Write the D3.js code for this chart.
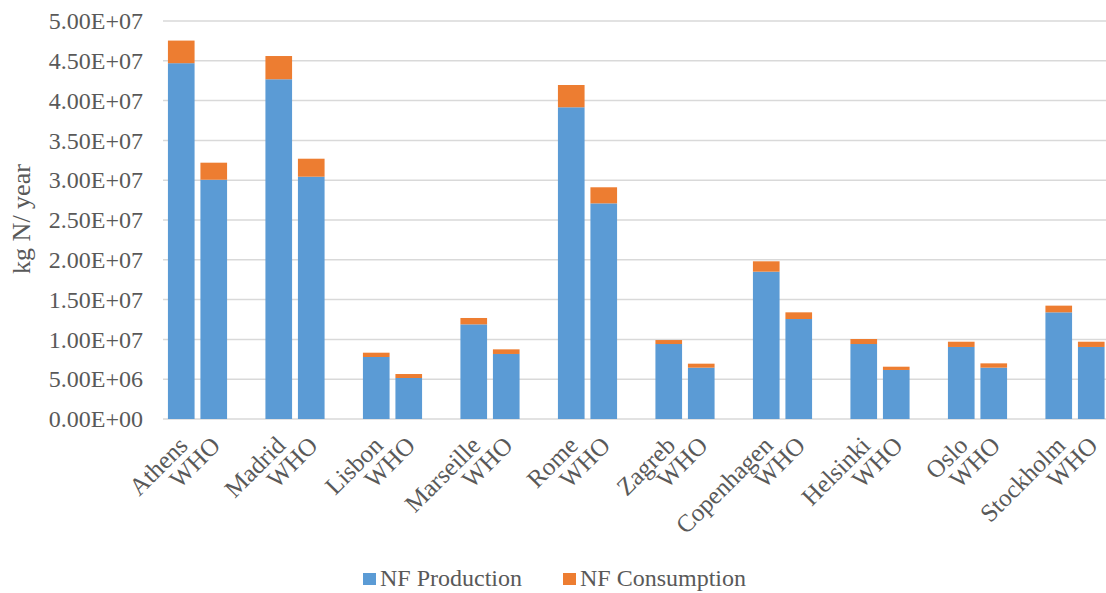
<!DOCTYPE html>
<html>
<head>
<meta charset="utf-8">
<script src="https://cdn.jsdelivr.net/npm/d3@7"></script>
<style>
  html, body { margin: 0; padding: 0; background: #fff; }
  svg text { font-family: "Liberation Serif", "Times New Roman", serif; fill: #595959; }
</style>
</head>
<body>
<svg id="chart" width="1106" height="593"></svg>
<script>
// Each city is followed by its WHO-scenario bar
const barLabels = [
  "Athens", "WHO", "Madrid", "WHO", "Lisbon", "WHO", "Marseille", "WHO",
  "Rome", "WHO", "Zagreb", "WHO", "Copenhagen", "WHO", "Helsinki", "WHO",
  "Oslo", "WHO", "Stockholm", "WHO"
];
// kg N / year
const nfProduction = [
  4.47e7, 3.006e7, 4.268e7, 3.044e7, 0.779e7, 0.515e7, 1.189e7, 0.817e7,
  3.916e7, 2.709e7, 0.942e7, 0.645e7, 1.851e7, 1.256e7, 0.942e7, 0.616e7,
  0.905e7, 0.645e7, 1.340e7, 0.905e7
];
const nfConsumption = [
  0.284e7, 0.214e7, 0.292e7, 0.226e7, 0.054e7, 0.050e7, 0.080e7, 0.058e7,
  0.280e7, 0.202e7, 0.050e7, 0.050e7, 0.130e7, 0.084e7, 0.063e7, 0.041e7,
  0.066e7, 0.054e7, 0.084e7, 0.066e7
];
const seriesNames = ["NF Production", "NF Consumption"];
const seriesColors = ["#5B9BD5", "#ED7D31"];
const yTicks = d3.range(0, 5e7 + 1, 5e6);

const svg = d3.select("#chart");

// pairs of bars separated by an empty slot
const slotCount = 29;
const slotOf = i => Math.floor(i / 2) * 3 + (i % 2);

const x = d3.scaleBand()
  .domain(d3.range(slotCount))
  .range([165, 1107.5])
  .paddingInner(0.18)
  .paddingOuter(0.09);

const y = d3.scaleLinear().domain([0, 5e7]).range([419, 21]);

const fmt = v => {
  const [m, e] = v.toExponential(2).split("e");
  const sign = e[0] === "-" ? "-" : "+";
  const digits = e.replace(/[+-]/, "").padStart(2, "0");
  return m + "E" + sign + digits;
};

// gridlines
svg.append("g")
  .selectAll("line")
  .data(yTicks)
  .join("line")
  .attr("x1", 163).attr("x2", 1106)
  .attr("y1", d => y(d)).attr("y2", d => y(d))
  .attr("stroke", "#D9D9D9")
  .attr("stroke-width", 1.5);

// y axis labels
const yAxis = svg.append("g")
  .attr("transform", "translate(143,0)")
  .call(d3.axisLeft(y).tickValues(yTicks).tickFormat(fmt).tickSize(0).tickPadding(0));
yAxis.select(".domain").remove();
yAxis.selectAll("text")
  .attr("font-size", 24)
  .attr("fill", "#595959")
  .attr("font-family", "Liberation Serif, Times New Roman, serif");

// stacked bars
const rows = barLabels.map((label, i) => ({
  i, label,
  "NF Production": nfProduction[i],
  "NF Consumption": nfConsumption[i]
}));
const stacked = d3.stack().keys(seriesNames)(rows);

svg.append("g")
  .selectAll("g")
  .data(stacked)
  .join("g")
  .attr("fill", (d, k) => seriesColors[k])
  .selectAll("rect")
  .data(d => d)
  .join("rect")
  .attr("x", d => x(slotOf(d.data.i)))
  .attr("width", x.bandwidth())
  .attr("y", d => y(d[1]))
  .attr("height", d => y(d[0]) - y(d[1]));

// category labels, rotated
svg.append("g")
  .selectAll("text")
  .data(rows)
  .join("text")
  .attr("transform", d => {
    const cx = x(slotOf(d.i)) + x.bandwidth() / 2;
    return `translate(${cx + 8},${447}) rotate(-45)`;
  })
  .attr("text-anchor", "end")
  .attr("font-size", 25)
  .text(d => d.label);

// y axis title
svg.append("text")
  .attr("transform", "translate(30,219) rotate(-90)")
  .attr("text-anchor", "middle")
  .attr("font-size", 26)
  .text("kg N/ year");

// legend
const legend = svg.append("g");
const legendItems = [
  { name: seriesNames[0], color: seriesColors[0], x: 363 },
  { name: seriesNames[1], color: seriesColors[1], x: 563 }
];
const li = legend.selectAll("g").data(legendItems).join("g")
  .attr("transform", d => `translate(${d.x},573)`);
li.append("rect").attr("width", 13).attr("height", 12).attr("fill", d => d.color);
li.append("text").attr("x", 17).attr("y", 13).attr("font-size", 24).text(d => d.name);
</script>
</body>
</html>
